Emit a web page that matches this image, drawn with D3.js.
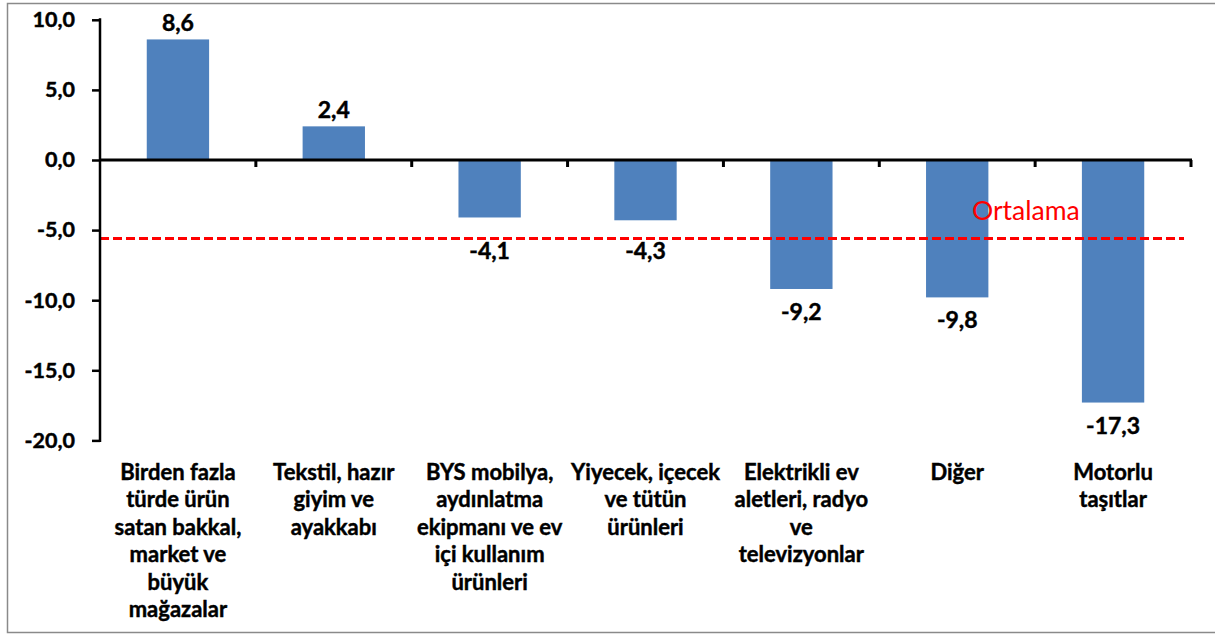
<!DOCTYPE html>
<html>
<head>
<meta charset="utf-8">
<script src="https://cdn.jsdelivr.net/npm/d3@7"></script>
<style>
  html, body { margin: 0; padding: 0; background: #fff; }
  svg { display: block; }
  text { font-family: Lato, "Open Sans", sans-serif; }
  .bold { font-weight: 700; stroke: #000; stroke-width: 0.45px; paint-order: stroke; }
</style>
</head>
<body>
<div id="chart"></div>
<script>
// Perakende satış hacmi değişimi (%) - kategori bazında
const categories = [
  "Birden fazla türde ürün satan bakkal, market ve büyük mağazalar",
  "Tekstil, hazır giyim ve ayakkabı",
  "BYS mobilya, aydınlatma ekipmanı ve ev içi kullanım ürünleri",
  "Yiyecek, içecek ve tütün ürünleri",
  "Elektrikli ev aletleri, radyo ve televizyonlar",
  "Diğer",
  "Motorlu taşıtlar"
];
// satır kırılımları (Excel'deki gibi)
const categoryLines = [
  ["Birden fazla", "türde ürün", "satan bakkal,", "market ve", "büyük", "mağazalar"],
  ["Tekstil, hazır", "giyim ve", "ayakkabı"],
  ["BYS mobilya,", "aydınlatma", "ekipmanı ve ev", "içi kullanım", "ürünleri"],
  ["Yiyecek, içecek", "ve tütün", "ürünleri"],
  ["Elektrikli ev", "aletleri, radyo", "ve", "televizyonlar"],
  ["Diğer"],
  ["Motorlu", "taşıtlar"]
];
const values = [8.6, 2.4, -4.1, -4.3, -9.2, -9.8, -17.3];
const average = -5.6;
const averageLabel = "Ortalama";
const yTicks = [10, 5, 0, -5, -10, -15, -20];

const fmt = v => v.toFixed(1).replace(".", ",");

const W = 1215, H = 635;
const svg = d3.select("#chart").append("svg")
  .attr("width", W)
  .attr("height", H);

// çerçeve
svg.append("rect")
  .attr("x", 7.5).attr("y", 3.5)
  .attr("width", W + 10).attr("height", 629)
  .attr("fill", "#fff")
  .attr("stroke", "#8a8a8a")
  .attr("stroke-width", 1.5);

const x = d3.scaleBand()
  .domain(categories)
  .range([100, 1191])
  .paddingInner(0.6)
  .paddingOuter(0.3);

const y = d3.scaleLinear()
  .domain([-20, 10])
  .range([440.4, 19.8]);

const step = x.step();
const blue = "#4F81BD";

// bars
svg.append("g")
  .selectAll("rect")
  .data(values)
  .join("rect")
  .attr("x", (d, i) => x(categories[i]))
  .attr("y", d => y(Math.max(0, d)))
  .attr("width", x.bandwidth())
  .attr("height", d => Math.abs(y(d) - y(0)))
  .attr("fill", blue);

// ortalama çizgisi
svg.append("line")
  .attr("x1", 100)
  .attr("x2", 1184)
  .attr("y1", y(average))
  .attr("y2", y(average))
  .attr("stroke", "#ff0000")
  .attr("stroke-width", 3)
  .attr("stroke-dasharray", "9,4");

svg.append("text")
  .attr("x", 972)
  .attr("y", y(average) - 19)
  .attr("fill", "#ff0000")
  .style("font-size", "26.5px")
  .text(averageLabel);

// y ekseni
const yAxis = d3.axisLeft(y)
  .tickValues(yTicks)
  .tickSize(8)
  .tickPadding(17)
  .tickFormat(fmt);

const ya = svg.append("g")
  .attr("transform", "translate(100,0)")
  .call(yAxis);
ya.select(".domain").attr("stroke", "#000").attr("stroke-width", 2.5)
  .attr("d", `M0,${y(10) - 1.5}V${y(-20) + 1.5}`);
ya.selectAll(".tick line").attr("stroke", "#000").attr("stroke-width", 2.5);
ya.selectAll(".tick text")
  .attr("class", "bold")
  .style("font-family", "Lato, sans-serif")
  .style("font-size", "21.5px")
  .attr("fill", "#000");

// sıfır çizgisi ve kategori tikleri
const xa = svg.append("g");
xa.append("line")
  .attr("x1", 100).attr("x2", 1192)
  .attr("y1", y(0)).attr("y2", y(0))
  .attr("stroke", "#000").attr("stroke-width", 3);
xa.selectAll(".ctick")
  .data(categories)
  .join("line")
  .attr("class", "ctick")
  .attr("x1", d => x(d) + x.bandwidth() + (step - x.bandwidth()) / 2)
  .attr("x2", d => x(d) + x.bandwidth() + (step - x.bandwidth()) / 2)
  .attr("y1", y(0))
  .attr("y2", y(0) + 7)
  .attr("stroke", "#000")
  .attr("stroke-width", 3);

// değer etiketleri (ortalama çizgisiyle çakışmasın)
svg.append("g")
  .selectAll("text")
  .data(values)
  .join("text")
  .attr("class", "bold")
  .attr("x", (d, i) => x(categories[i]) + x.bandwidth() / 2)
  .attr("y", d => d >= 0 ? y(d) - 8 : Math.max(y(d) + 31, y(average) + 20))
  .attr("text-anchor", "middle")
  .style("font-size", "23px")
  .attr("fill", "#000")
  .text(fmt);

// kategori etiketleri
const lab = svg.append("g")
  .selectAll("text")
  .data(categories)
  .join("text")
  .attr("class", "bold")
  .attr("text-anchor", "middle")
  .attr("x", d => x(d) + x.bandwidth() / 2)
  .attr("y", 480)
  .style("font-size", "22px")
  .attr("fill", "#000");

lab.each(function(d, i) {
  const t = d3.select(this);
  categoryLines[i].forEach((line, j) => {
    t.append("tspan")
      .attr("x", x(d) + x.bandwidth() / 2)
      .attr("y", 480 + j * 27.4)
      .text(line);
  });
});
</script>
</body>
</html>
